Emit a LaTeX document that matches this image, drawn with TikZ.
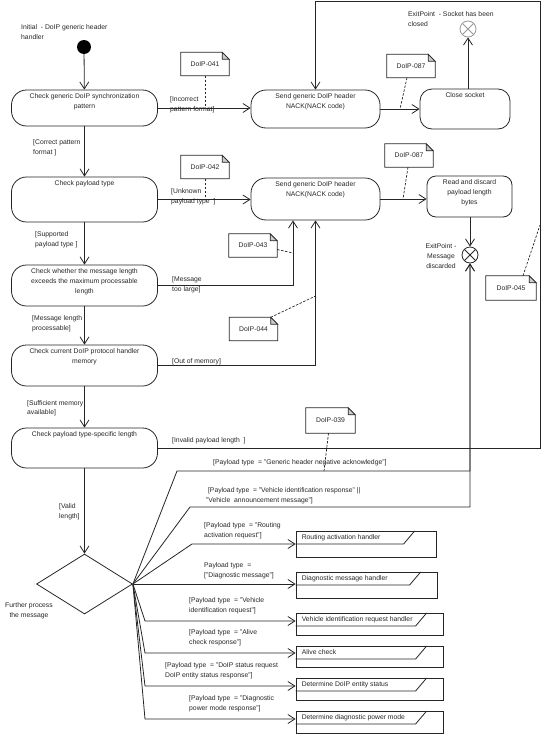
\documentclass[tikz,border=0pt]{standalone}
\usepackage{fontspec}
\setmainfont{Liberation Sans}
\usetikzlibrary{arrows.meta,positioning,shapes.geometric}
\newcommand{\diafont}{\fontsize{6.8}{10}\selectfont}
\tikzset{
  basic/.style    = {draw=black!85, line width=0.8pt, font=\diafont, text=black!85},
  action/.style   = {basic, rectangle, rounded corners=15pt, minimum width=146pt},
  actlabel/.style = {anchor=north, inner sep=0pt, yshift=-4pt, align=center, font=\diafont, text=black!85},
  guard/.style    = {anchor=north west, inner sep=0pt, align=left, font=\diafont, text=black!85},
  flow/.style     = {draw=black!85, line width=0.8pt, -{Straight Barb[length=7pt,width=9pt]}},
  link/.style     = {draw=black!85, line width=0.8pt},
  trace/.style    = {draw=black!85, line width=0.7pt, dash pattern=on 2.5pt off 1.5pt},
  docnote/.style  = {font=\diafont, text=black!85, minimum width=48pt, minimum height=23pt, inner sep=0pt,
    append after command={\pgfextra{
      \draw[line width=0.7pt, black!85] (\tikzlastnode.north west) -- ([xshift=-7pt]\tikzlastnode.north east)
        -- ([yshift=-7pt]\tikzlastnode.north east) -- (\tikzlastnode.south east)
        -- (\tikzlastnode.south west) -- cycle;
      \draw[line width=0.7pt, black!85, fill=black!20] ([xshift=-7pt]\tikzlastnode.north east)
        -- ([xshift=-7pt,yshift=-7pt]\tikzlastnode.north east) -- ([yshift=-7pt]\tikzlastnode.north east) -- cycle;
    }}},
  exitpt/.style   = {circle, draw=#1, line width=0.8pt, minimum size=16pt, inner sep=0pt,
    path picture={\draw[#1, line width=0.8pt] (path picture bounding box.north west) -- (path picture bounding box.south east)
      (path picture bounding box.south west) -- (path picture bounding box.north east);}},
  exitpt/.default = black!85,
  callframe/.style = {basic, rectangle, inner sep=0pt, minimum width=147pt, minimum height=22pt},
  calltab/.style  = {anchor=north west, font=\diafont, text=black!85, inner xsep=6pt, inner ysep=0pt,
                     minimum height=13pt}
}
\begin{document}
\begin{tikzpicture}[x=1pt, y=-1pt]
\useasboundingbox (0,0) rectangle (554,736);

% start
\node[guard] (initlab) at (21,24) {Initial\ \ - DoIP generic header\\handler};
\node[circle, fill=black, minimum size=14pt, inner sep=0pt] (init) at (84,47) {};

% checks on the left
\node[action, minimum height=36pt, label={[actlabel]90:Check generic DoIP synchronization\\pattern}] (chk1) at (84.5,108) {};
\node[action, minimum height=45pt, label={[actlabel]90:Check payload type}] (chk2) at (84.5,199.5) {};
\node[action, minimum height=41pt, label={[actlabel]90:Check whether the message length\\exceeds the maximum processable\\length}] (chk3) at (84.5,285.5) {};
\node[action, minimum height=41pt, label={[actlabel]90:Check current DoIP protocol handler\\memory}] (chk4) at (84.5,365.5) {};
\node[action, minimum height=40pt, label={[actlabel]90:Check payload type-specific length}] (chk5) at (84.5,448) {};
\node[diamond, basic, minimum width=96pt, minimum height=60pt, inner sep=0pt] (fork) at (84.5,584) {};
\node[guard, align=center, anchor=center] (forklab) at (29,611) {Further process\\the message};

% NACK and exits
\node[action, minimum width=129pt, minimum height=38pt, label={[actlabel]90:Send generic DoIP header\\NACK(NACK code)}] (nack1) at (315.5,109) {};
\node[action, minimum width=129pt, minimum height=42pt, label={[actlabel]90:Send generic DoIP header\\NACK(NACK code)}] (nack2) at (315.5,199) {};
\node[action, rounded corners=12pt, minimum width=90pt, minimum height=40pt, label={[actlabel]90:Close socket}] (close) at (465,109) {};
\node[action, rounded corners=9pt, minimum width=85pt, minimum height=41pt, label={[actlabel]90:Read and discard\\payload length\\bytes}] (readd) at (469.5,196.5) {};
\node[exitpt=black!40] (exit1) at (468,29) {};
\node[guard] (exit1lab) at (408,11) {ExitPoint\ \ - Socket has been\\closed};
\node[exitpt] (exit2) at (470,255) {};
\node[guard, align=center, anchor=center] (exit2lab) at (441,256) {ExitPoint -\\Message\\discarded};

% notes
\node[docnote] (n041) at (205,64) {DoIP-041};
\node[docnote] (n042) at (205,167) {DoIP-042};
\node[docnote] (n087a) at (411,66) {DoIP-087};
\node[docnote] (n087b) at (409,155.5) {DoIP-087};
\node[docnote] (n043) at (253,245.5) {DoIP-043};
\node[docnote] (n044) at (253.5,329) {DoIP-044};
\node[docnote, minimum width=50pt, minimum height=24pt] (n045) at (511,288) {DoIP-045};
\node[docnote, minimum width=49pt, minimum height=25pt] (n039) at (330.5,420.5) {DoIP-039};

% called handlers
\node[callframe, minimum width=140pt, minimum height=26pt] (rah) at (366,544) {};
\node[calltab] (rahT) at (rah.north west) {Routing activation handler};
\node[callframe, minimum width=141pt, minimum height=26pt] (dmh) at (366.5,585) {};
\node[calltab] (dmhT) at (dmh.north west) {Diagnostic message handler};
\node[callframe] (vir) at (369.5,624) {};
\node[calltab] (virT) at (vir.north west) {Vehicle identification request handler};
\node[callframe, minimum height=21pt] (alv) at (369.5,656.5) {};
\node[calltab] (alvT) at (alv.north west) {Alive check};
\node[callframe] (des) at (369.5,689) {};
\node[calltab] (desT) at (des.north west) {Determine DoIP entity status};
\node[callframe] (dpm) at (369.5,722) {};
\node[calltab] (dpmT) at (dpm.north west) {Determine diagnostic power mode};
\foreach \t/\w in {rahT/108,dmhT/114,virT/120,alvT/120,desT/120,dpmT/120}
  \draw[link] (\t.south west) -- ++(\w,0) -- ++(11,-13);

% main flow
\draw[flow] (init) -- (chk1);
\draw[flow] (chk1) -- (chk2);
\draw[flow] (chk2) -- (chk3);
\draw[flow] (chk3) -- (chk4);
\draw[flow] (chk4) -- (chk5);
\draw[flow] (chk5) -- (fork);
\draw[flow] (chk1.east) -- (chk1.east -| nack1.west);
\draw[flow] (chk2.east) -- (chk2.east -| nack2.west);
\draw[flow] (chk3.east) -| ([xshift=-22.5pt]nack2.south);
\draw[flow] (chk4.east) -| (nack2.south);
\coordinate (loopNE) at (540,1);
\draw[flow] (chk5.east) -| (loopNE) -| (nack1.north);
\draw[flow] (nack1.east) -- (nack1.east -| close.west);
\draw[flow] (close.north -| exit1) -- (exit1);
\draw[flow] (nack2.east) -- (nack2.east -| readd.west);
\draw[flow] (readd.south -| exit2) -- (exit2);

% fan out of the decision
\coordinate (g1) at (177,471);
\coordinate (g2) at (190,507);
\coordinate (g3) at (192,544);
\coordinate (g5) at (145,621);
\coordinate (g6) at (145,653);
\coordinate (g7) at (145,686);
\coordinate (g8) at (145,719);
\draw[flow] (fork.east) -- (g1) -| (exit2.south);
\draw[flow] (fork.east) -- (g2) -| (exit2.south);
\draw[flow] (fork.east) -- (g3) -- (g3 -| rah.west);
\draw[flow] (fork.east) -- (fork.east -| dmh.west);
\draw[flow] (fork.east) -- (g5) -- (g5 -| vir.west);
\draw[flow] (fork.east) -- (g6) -- (g6 -| alv.west);
\draw[flow] (fork.east) -- (g7) -- (g7 -| des.west);
\draw[flow] (fork.east) -- (g8) -- (g8 -| dpm.west);

% note links
\draw[trace] (n041.south) -- (n041.south |- chk1.east);
\draw[trace] (n042.south) -- (n042.south |- chk2.east);
\draw[trace] ([xshift=-4pt]n087a.south) -- (400,109);
\draw[trace] ([xshift=-1pt]n087b.south) -- (403,199);
\draw[trace] ([yshift=-4pt]n043.east) -- (293,253);
\draw[trace] ([xshift=-7pt]n044.north east) -- (315.5,296);
\draw[trace] ([xshift=12pt]n045.north) -- (540,225);
\draw[trace] ([xshift=-2pt]n039.south) -- (324,471);

% guards
\node[guard] (gd1) at (170,96) {[Incorrect\\pattern format]};
\node[guard] (gd2) at (33,139) {[Correct pattern\\format ]};
\node[guard] (gd3) at (171,188) {[Unknown\\payload type\ \ ]};
\node[guard] (gd4) at (35,231) {[Supported\\payload type ]};
\node[guard] (gd5) at (172,276) {[Message\\too large]};
\node[guard] (gd6) at (32,315) {[Message length\\processable]};
\node[guard] (gd7) at (172,358) {[Out of memory]};
\node[guard, font=\fontsize{6.8}{9}\selectfont] (gd8) at (27,400) {[Sufficient memory\\available]};
\node[guard] (gd9) at (172,437) {[Invalid payload length\ \ ]};
\node[guard] (gd10) at (59,503) {[Valid\\length]};
\node[guard] (p1) at (213,459) {[Payload type\ \ = "Generic header negative acknowledge"]};
\node[guard] (p2) at (206,487) {\ [Payload type\ \ = "Vehicle identification response" ||\\"Vehicle\ \ announcement message"]};
\node[guard] (p3) at (204,522) {[Payload type\ \ = "Routing\\activation request"]};
\node[guard] (p4) at (204,562) {Payload type\ \ =\\{[}"Diagnostic message"]};
\node[guard] (p5) at (189,597) {[Payload type\ \ = "Vehicle\\identification request"]};
\node[guard] (p6) at (189,629) {[Payload type\ \ = "Alive\\check response"]};
\node[guard] (p7) at (165,662) {[Payload type\ \ = "DoIP status request\\DoIP entity status response"]};
\node[guard] (p8) at (189,695) {[Payload type\ \ = "Diagnostic\\power mode response"]};
\end{tikzpicture}
\end{document}
